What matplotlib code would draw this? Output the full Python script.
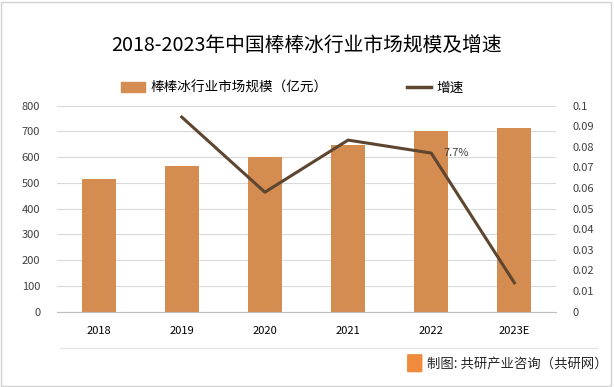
import matplotlib
matplotlib.use("Agg")
import matplotlib.pyplot as plt
from matplotlib.patches import Rectangle, FancyBboxPatch
from matplotlib.lines import Line2D

plt.rcParams['font.family'] = ['Noto Sans CJK SC', 'DejaVu Sans']

categories = ["2018", "2019", "2020", "2021", "2022", "2023E"]
market_size = [515, 566, 600, 647, 700, 713]
growth_rate = [None, 0.0945, 0.058, 0.0833, 0.077, 0.014]
left_ticks = [0, 100, 200, 300, 400, 500, 600, 700, 800]
right_ticks = [0, 0.01, 0.02, 0.03, 0.04, 0.05, 0.06, 0.07, 0.08, 0.09, 0.1]
right_tick_labels = ["0", "0.01", "0.02", "0.03", "0.04", "0.05", "0.06", "0.07", "0.08", "0.09", "0.1"]
title = "2018-2023年中国棒棒冰行业市场规模及增速"
bar_label = "棒棒冰行业市场规模（亿元）"
line_label = "增速"
annot = "7.7%"
source = "制图: 共研产业咨询（共研网）"

bar_color = "#D48C50"
line_color = "#5E4530"
grid_color = "#D9D9D9"
text_color = "#404040"

fig = plt.figure(figsize=(6.14, 3.87), dpi=100)
fig.patches.append(Rectangle((0.002, 0.003), 0.993, 0.993, transform=fig.transFigure,
                             fill=False, edgecolor="#D0D0D0", linewidth=1))

ax = fig.add_axes([0.0928, 0.1946, 0.8127, 0.5323])
x = list(range(len(categories)))
ax.bar(x, market_size, width=0.41, color=bar_color, zorder=2)
ax.set_xlim(-0.5, len(categories) - 0.5)
ax.set_ylim(0, 800)
ax.set_yticks(left_ticks)
ax.set_xticks(x)
ax.set_xticklabels(categories, fontsize=8, color="#000000")
ax.tick_params(axis='y', labelsize=8, labelcolor=text_color, length=0, pad=12)
ax.tick_params(axis='x', length=0, pad=10)
ax.grid(axis='y', color=grid_color, linewidth=0.8, zorder=0)
for s in ["left", "right", "top"]:
    ax.spines[s].set_visible(False)
ax.spines["bottom"].set_color("#BFBFBF")

ax2 = ax.twinx()
xs = [i for i, v in enumerate(growth_rate) if v is not None]
ys = [v for v in growth_rate if v is not None]
ax2.plot(xs, ys, color=line_color, linewidth=2.2, zorder=3)
ax2.set_ylim(0, 0.1)
ax2.set_yticks(right_ticks)
ax2.set_yticklabels(right_tick_labels)
ax2.tick_params(axis='y', labelsize=8, labelcolor=text_color, length=0, pad=12)
for s in ["left", "right", "top", "bottom"]:
    ax2.spines[s].set_visible(False)
ax2.annotate(annot, (4, growth_rate[4]), xytext=(9, 0), textcoords="offset points",
             fontsize=8, color=text_color, ha="left", va="center")

fig.text(0.5, 0.882, title, ha="center", va="center", fontsize=14.2, color="#000000")

handles = [Rectangle((0, 0), 1, 1, color=bar_color),
           Line2D([0], [0], color=line_color, linewidth=2.5)]
fig.legend(handles, [bar_label, line_label], loc="center", bbox_to_anchor=(0.476, 0.773),
           ncol=2, frameon=False, fontsize=9.8, columnspacing=5.8, handlelength=1.8,
           handleheight=0.8, handletextpad=0.4, labelcolor="#000000")

fig.add_artist(Line2D([0.098, 0.972], [0.102, 0.102], transform=fig.transFigure,
                      color="#E6E6E6", linewidth=1))
fig.patches.append(FancyBboxPatch((0.665, 0.040), 0.021, 0.043, transform=fig.transFigure,
                                  boxstyle="round,pad=0.002", facecolor="#F08A3C", edgecolor="none"))
fig.text(0.695, 0.061, source, ha="left", va="center", fontsize=9.6, color="#262626")

fig.savefig("out.png", dpi=100)
